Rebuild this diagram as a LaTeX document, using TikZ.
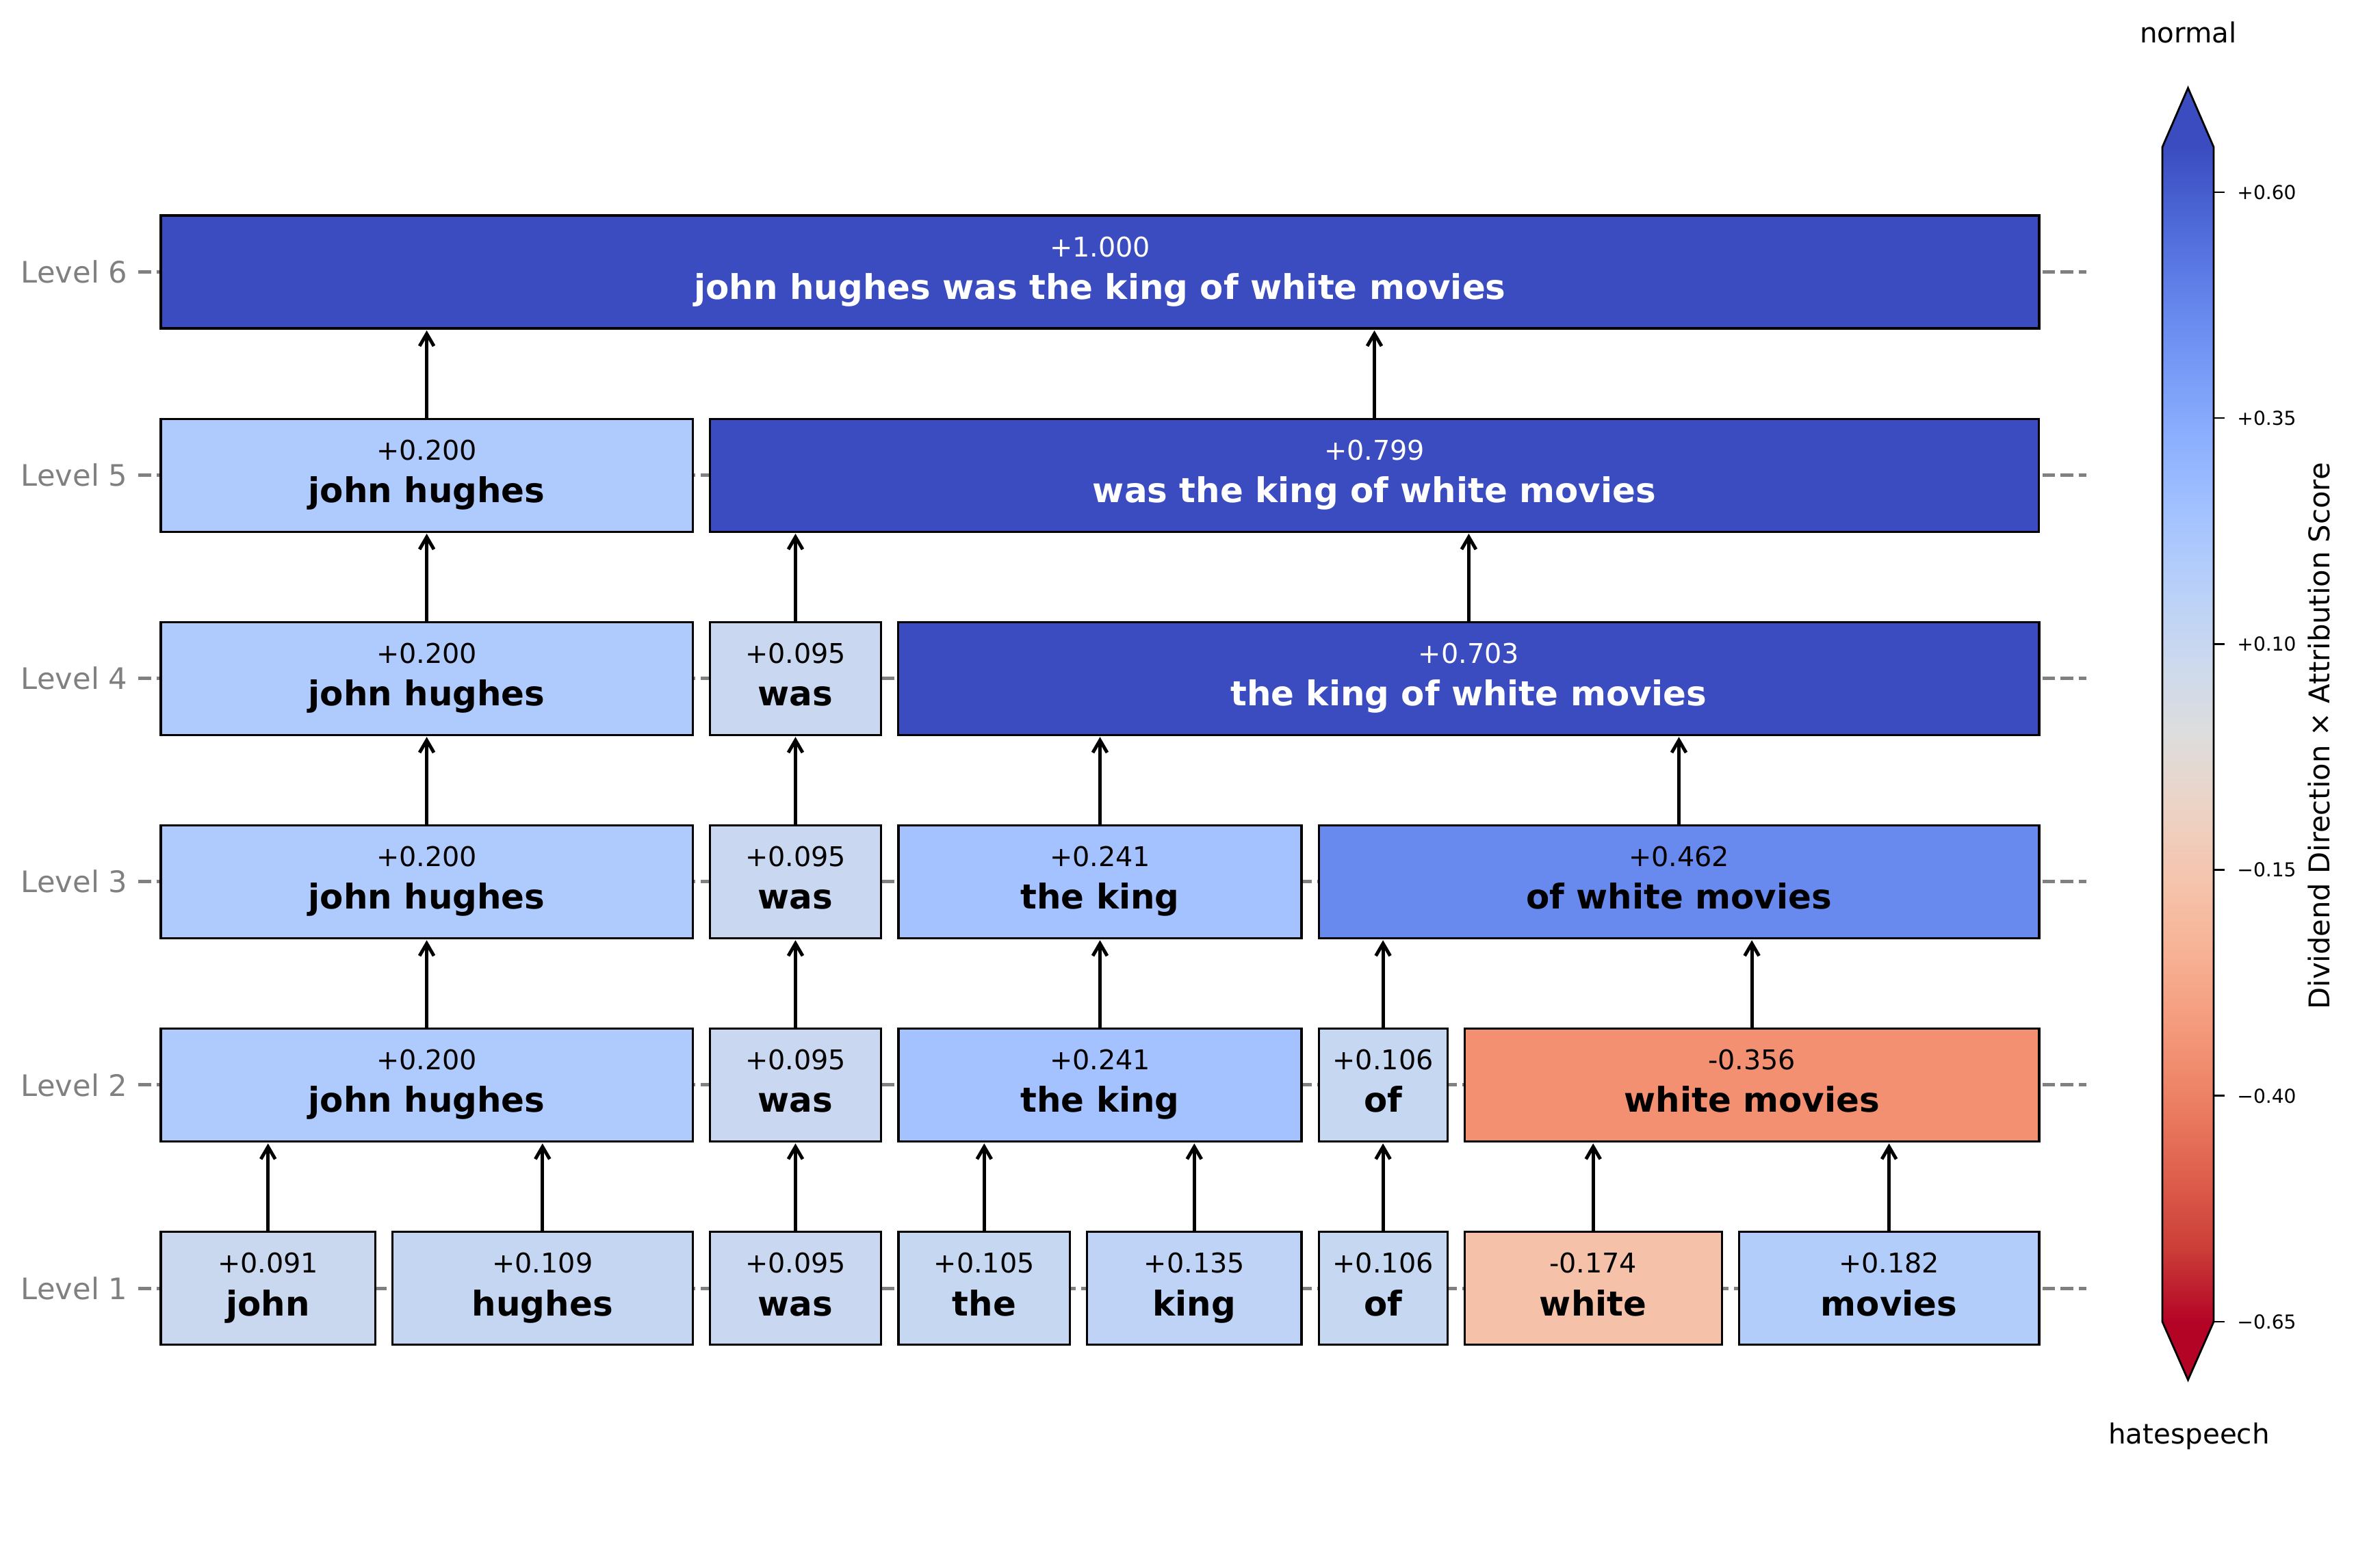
\documentclass[tikz,border=0pt]{standalone}
\usepackage{fontspec}
\setmainfont{DejaVu Sans}
\usepackage{xcolor}
\usepackage{tikz}
\usetikzlibrary{arrows.meta,positioning,calc}

% coolwarm, read from blue (+) to red (-)
\definecolor{cw00}{RGB}{59,76,192}
\definecolor{cw01}{RGB}{77,104,215}
\definecolor{cw02}{RGB}{98,130,234}
\definecolor{cw03}{RGB}{119,154,247}
\definecolor{cw04}{RGB}{141,176,254}
\definecolor{cw05}{RGB}{163,194,255}
\definecolor{cw06}{RGB}{184,208,249}
\definecolor{cw07}{RGB}{204,217,238}
\definecolor{cw08}{RGB}{221,221,221}
\definecolor{cw09}{RGB}{236,211,197}
\definecolor{cw10}{RGB}{245,196,173}
\definecolor{cw11}{RGB}{247,177,148}
\definecolor{cw12}{RGB}{244,154,123}
\definecolor{cw13}{RGB}{236,127,99}
\definecolor{cw14}{RGB}{222,96,77}
\definecolor{cw15}{RGB}{203,62,56}
\definecolor{cw16}{RGB}{180,4,38}
\pgfdeclareverticalshading{coolwarmbar}{100bp}{color(0bp)=(cw16); color(25bp)=(cw16);
  color(28.125bp)=(cw15); color(31.25bp)=(cw14); color(34.375bp)=(cw13); color(37.5bp)=(cw12);
  color(40.625bp)=(cw11); color(43.75bp)=(cw10); color(46.875bp)=(cw09); color(50bp)=(cw08);
  color(53.125bp)=(cw07); color(56.25bp)=(cw06); color(59.375bp)=(cw05); color(62.5bp)=(cw04);
  color(65.625bp)=(cw03); color(68.75bp)=(cw02); color(71.875bp)=(cw01); color(75bp)=(cw00);
  color(100bp)=(cw00)}

% score colours of the boxes
\definecolor{sc091}{RGB}{202,216,239}
\definecolor{sc095}{RGB}{201,216,240}
\definecolor{sc105}{RGB}{198,215,241}
\definecolor{sc106}{RGB}{198,215,242}
\definecolor{sc109}{RGB}{197,214,242}
\definecolor{sc135}{RGB}{191,211,246}
\definecolor{sc182}{RGB}{179,205,251}
\definecolor{sc200}{RGB}{175,202,253}
\definecolor{sc241}{RGB}{164,194,255}
\definecolor{sc462}{RGB}{104,138,238}
\definecolor{scmax}{RGB}{59,76,192}
\definecolor{scm174}{RGB}{246,193,169}
\definecolor{scm356}{RGB}{242,144,113}

\newcommand{\cellbody}[2]{\rule{0pt}{10pt}#1\\\fontsize{14.2pt}{17.78pt}\selectfont\bfseries\rule[-5.02pt]{0pt}{5.02pt}#2}

\begin{document}
\begin{tikzpicture}[
    y=-1cm,
    cell/.style={rectangle, draw=black, line width=0.9pt, minimum height=1.65cm, inner sep=0pt, outer sep=0pt, align=center, font=\fontsize{11.3pt}{17.78pt}\selectfont},
    darkcell/.style={cell, fill=scmax, text=white},
    arrow/.style={-{Straight Barb[length=0.18cm, width=0.21cm]}, line width=1.4pt, shorten >=0.03cm},
    levelline/.style={gray, line width=0.05cm, dash pattern=on 0.185cm off 0.08cm},
    levellabel/.style={anchor=east, inner sep=0pt, text=gray, font=\fontsize{12.3pt}{14pt}\selectfont},
    barlabel/.style={inner sep=0pt, font=\fontsize{11.5pt}{14pt}\selectfont}
]
\useasboundingbox (0,0) rectangle (34.43,22.92);

% Level rows: dashed guide and label
\foreach \n/\y in {1/18.83, 2/15.859, 3/12.888, 4/9.917, 5/6.946, 6/3.975} {
    \draw[levelline] (2.02,\y) -- (30.49,\y);
    \node[levellabel] (lvl\n) at (1.87,\y) {Level \n};
}

% Level 1: single words
\node[cell, fill=sc091, minimum width=3.134cm] (john1) at (3.917,18.83) {\cellbody{+0.091}{john}};
\node[cell, fill=sc109, minimum width=4.387cm] (hughes1) at (7.928,18.83) {\cellbody{+0.109}{hughes}};
\node[cell, fill=sc095, minimum width=2.507cm] (was1) at (11.625,18.83) {\cellbody{+0.095}{was}};
\node[cell, fill=sc105, minimum width=2.507cm] (the1) at (14.383,18.83) {\cellbody{+0.105}{the}};
\node[cell, fill=sc135, minimum width=3.134cm] (king1) at (17.453,18.83) {\cellbody{+0.135}{king}};
\node[cell, fill=sc106, minimum width=1.880cm] (of1) at (20.211,18.83) {\cellbody{+0.106}{of}};
\node[cell, fill=scm174, minimum width=3.760cm] (white1) at (23.282,18.83) {\cellbody{-0.174}{white}};
\node[cell, fill=sc182, minimum width=4.387cm] (movies1) at (27.606,18.83) {\cellbody{+0.182}{movies}};

% Level 2
\node[cell, fill=sc200, minimum width=7.771cm] (jh2) at (6.236,15.859) {\cellbody{+0.200}{john hughes}};
\node[cell, fill=sc095, minimum width=2.507cm] (was2) at (11.625,15.859) {\cellbody{+0.095}{was}};
\node[cell, fill=sc241, minimum width=5.891cm] (tk2) at (16.075,15.859) {\cellbody{+0.241}{the king}};
\node[cell, fill=sc106, minimum width=1.880cm] (of2) at (20.211,15.859) {\cellbody{+0.106}{of}};
\node[cell, fill=scm356, minimum width=8.398cm] (wm2) at (25.601,15.859) {\cellbody{-0.356}{white movies}};

% Level 3
\node[cell, fill=sc200, minimum width=7.771cm] (jh3) at (6.236,12.888) {\cellbody{+0.200}{john hughes}};
\node[cell, fill=sc095, minimum width=2.507cm] (was3) at (11.625,12.888) {\cellbody{+0.095}{was}};
\node[cell, fill=sc241, minimum width=5.891cm] (tk3) at (16.075,12.888) {\cellbody{+0.241}{the king}};
\node[cell, fill=sc462, minimum width=10.528cm] (owm3) at (24.535,12.888) {\cellbody{+0.462}{of white movies}};

% Level 4
\node[cell, fill=sc200, minimum width=7.771cm] (jh4) at (6.236,9.917) {\cellbody{+0.200}{john hughes}};
\node[cell, fill=sc095, minimum width=2.507cm] (was4) at (11.625,9.917) {\cellbody{+0.095}{was}};
\node[darkcell, minimum width=16.670cm] (tkowm4) at (21.464,9.917) {\cellbody{+0.703}{the king of white movies}};

% Level 5
\node[cell, fill=sc200, minimum width=7.771cm] (jh5) at (6.236,6.946) {\cellbody{+0.200}{john hughes}};
\node[darkcell, minimum width=19.427cm] (wtkowm5) at (20.085,6.946) {\cellbody{+0.799}{was the king of white movies}};

% Level 6: whole sentence
\node[darkcell, minimum width=27.449cm] (all6) at (16.075,3.975) {\cellbody{+1.000}{john hughes was the king of white movies}};

% Arrows from parts to merged spans
\draw[arrow] (john1.north) -- (john1.north |- jh2.south);
\draw[arrow] (hughes1.north) -- (hughes1.north |- jh2.south);
\draw[arrow] (was1.north) -- (was1.north |- was2.south);
\draw[arrow] (the1.north) -- (the1.north |- tk2.south);
\draw[arrow] (king1.north) -- (king1.north |- tk2.south);
\draw[arrow] (of1.north) -- (of1.north |- of2.south);
\draw[arrow] (white1.north) -- (white1.north |- wm2.south);
\draw[arrow] (movies1.north) -- (movies1.north |- wm2.south);

\draw[arrow] (jh2.north) -- (jh2.north |- jh3.south);
\draw[arrow] (was2.north) -- (was2.north |- was3.south);
\draw[arrow] (tk2.north) -- (tk2.north |- tk3.south);
\draw[arrow] (of2.north) -- (of2.north |- owm3.south);
\draw[arrow] (wm2.north) -- (wm2.north |- owm3.south);

\draw[arrow] (jh3.north) -- (jh3.north |- jh4.south);
\draw[arrow] (was3.north) -- (was3.north |- was4.south);
\draw[arrow] (tk3.north) -- (tk3.north |- tkowm4.south);
\draw[arrow] (owm3.north) -- (owm3.north |- tkowm4.south);

\draw[arrow] (jh4.north) -- (jh4.north |- jh5.south);
\draw[arrow] (was4.north) -- (was4.north |- wtkowm5.south);
\draw[arrow] (tkowm4.north) -- (tkowm4.north |- wtkowm5.south);

\draw[arrow] (jh5.north) -- (jh5.north |- all6.south);
\draw[arrow] (wtkowm5.north) -- (wtkowm5.north |- all6.south);

% Colour bar with both ends extended
\shade[shading=coolwarmbar] (31.60,2.15) rectangle (32.35,19.32);
\fill[cw00] (31.60,2.15) -- (31.975,1.286) -- (32.35,2.15) -- cycle;
\fill[cw16] (31.60,19.32) -- (31.975,20.17) -- (32.35,19.32) -- cycle;
\draw[line width=0.8pt, line join=miter] (31.60,2.15) -- (31.975,1.286) -- (32.35,2.15) -- (32.35,19.32)
    -- (31.975,20.17) -- (31.60,19.32) -- cycle;
\foreach \v/\y in {+0.60/2.81, +0.35/6.11, +0.10/9.414, −0.15/12.716, −0.40/16.018, −0.65/19.32} {
    \draw[line width=0.8pt] (32.35,\y) -- (32.51,\y)
        node[anchor=west, inner sep=0pt, xshift=0.17cm, font=\fontsize{8pt}{10pt}\selectfont] {\v};
}
\node[barlabel, anchor=base] (normal) at (31.98,0.62) {normal};
\node[barlabel, anchor=base] (hate) at (31.99,21.10) {hatespeech};
\node[barlabel, rotate=90, font=\fontsize{11.85pt}{14pt}\selectfont] (barname) at (33.89,10.76) {Dividend Direction × Attribution Score};

\end{tikzpicture}
\end{document}
